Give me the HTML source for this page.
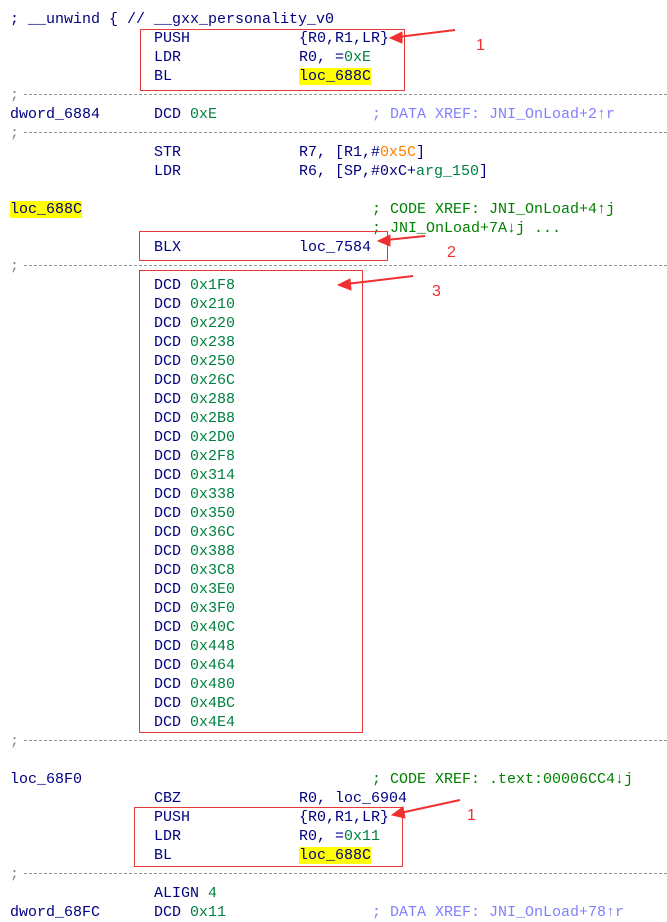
<!DOCTYPE html>
<html><head><meta charset="utf-8"><style>
body{margin:0;width:667px;height:910px;background:#fff;position:relative;overflow:hidden;font-family:"Liberation Mono",monospace;font-size:15px;color:#000080}
.w{position:absolute;left:0;top:2px;width:667px;height:910px}
.r{position:absolute;white-space:pre;line-height:19px;height:19px}
.g{color:#008040}.o{color:#ff8000}.d{color:#8080ff}.c{color:#008000}
.h{background:#ffff00}
.sep{position:absolute;left:24px;right:0;height:0;border-top:1px dashed #909090}
.box{position:absolute;border:1px solid #e83a3a}
.n{position:absolute;color:#f03030;font-family:"Liberation Sans",sans-serif;font-size:16px}
</style></head><body>
<div class="w">
<div class="r" style="left:10px;top:8px">; __unwind { // __gxx_personality_v0</div>
<div class="r" style="left:154px;top:27px">PUSH</div><div class="r" style="left:299px;top:27px">{R0,R1,LR}</div>
<div class="r" style="left:154px;top:46px">LDR</div><div class="r" style="left:299px;top:46px">R0, =<span class="g">0xE</span></div>
<div class="r" style="left:154px;top:65px">BL</div><div class="r" style="left:299px;top:65px"><span class="h">loc_688C</span></div>
<div class="r" style="left:10px;top:84px;color:#888">;</div>
<div class="r" style="left:10px;top:103px">dword_6884</div><div class="r" style="left:154px;top:103px">DCD <span class="g">0xE</span></div><div class="r d" style="left:372px;top:103px">; DATA XREF: JNI_OnLoad+2↑r</div>
<div class="r" style="left:10px;top:122px;color:#888">;</div>
<div class="r" style="left:154px;top:141px">STR</div><div class="r" style="left:299px;top:141px">R7, [R1,#<span class="o">0x5C</span>]</div>
<div class="r" style="left:154px;top:160px">LDR</div><div class="r" style="left:299px;top:160px">R6, [SP,#0xC+<span class="g">arg_150</span>]</div>
<div class="r" style="left:10px;top:198px"><span class="h">loc_688C</span></div><div class="r c" style="left:372px;top:198px">; CODE XREF: JNI_OnLoad+4↑j</div>
<div class="r c" style="left:372px;top:217px">; JNI_OnLoad+7A↓j ...</div>
<div class="r" style="left:154px;top:236px">BLX</div><div class="r" style="left:299px;top:236px">loc_7584</div>
<div class="r" style="left:10px;top:255px;color:#888">;</div>
<div class="r" style="left:154px;top:274px;height:auto">DCD <span class="g">0x1F8</span>
DCD <span class="g">0x210</span>
DCD <span class="g">0x220</span>
DCD <span class="g">0x238</span>
DCD <span class="g">0x250</span>
DCD <span class="g">0x26C</span>
DCD <span class="g">0x288</span>
DCD <span class="g">0x2B8</span>
DCD <span class="g">0x2D0</span>
DCD <span class="g">0x2F8</span>
DCD <span class="g">0x314</span>
DCD <span class="g">0x338</span>
DCD <span class="g">0x350</span>
DCD <span class="g">0x36C</span>
DCD <span class="g">0x388</span>
DCD <span class="g">0x3C8</span>
DCD <span class="g">0x3E0</span>
DCD <span class="g">0x3F0</span>
DCD <span class="g">0x40C</span>
DCD <span class="g">0x448</span>
DCD <span class="g">0x464</span>
DCD <span class="g">0x480</span>
DCD <span class="g">0x4BC</span>
DCD <span class="g">0x4E4</span></div>
<div class="r" style="left:10px;top:730px;color:#888">;</div>
<div class="r" style="left:10px;top:768px">loc_68F0</div><div class="r c" style="left:372px;top:768px">; CODE XREF: .text:00006CC4↓j</div>
<div class="r" style="left:154px;top:787px">CBZ</div><div class="r" style="left:299px;top:787px">R0, loc_6904</div>
<div class="r" style="left:154px;top:806px">PUSH</div><div class="r" style="left:299px;top:806px">{R0,R1,LR}</div>
<div class="r" style="left:154px;top:825px">LDR</div><div class="r" style="left:299px;top:825px">R0, =<span class="g">0x11</span></div>
<div class="r" style="left:154px;top:844px">BL</div><div class="r" style="left:299px;top:844px"><span class="h">loc_688C</span></div>
<div class="r" style="left:10px;top:863px;color:#888">;</div>
<div class="r" style="left:154px;top:882px">ALIGN <span class="g">4</span></div>
<div class="r" style="left:10px;top:901px">dword_68FC</div><div class="r" style="left:154px;top:901px">DCD <span class="g">0x11</span></div><div class="r d" style="left:372px;top:901px">; DATA XREF: JNI_OnLoad+78↑r</div>
</div>
<div class="sep" style="top:94px"></div>
<div class="sep" style="top:132px"></div>
<div class="sep" style="top:265px"></div>
<div class="sep" style="top:740px"></div>
<div class="sep" style="top:873px"></div>

<div class="box" style="left:140px;top:29px;width:263px;height:60px"></div>
<div class="box" style="left:139px;top:231px;width:247px;height:28px"></div>
<div class="box" style="left:139px;top:270px;width:222px;height:461px"></div>
<div class="box" style="left:134px;top:807px;width:267px;height:58px"></div>

<svg style="position:absolute;left:0;top:0" width="667" height="910">
<g fill="#f03030" stroke="#f03030">
<line x1="455" y1="30" x2="398" y2="37" stroke-width="2"/><polygon points="390,38 402,32 402,43"/>
<line x1="425" y1="236" x2="386" y2="240" stroke-width="2"/><polygon points="378,241 390,235 390,246"/>
<line x1="413" y1="276" x2="346" y2="284" stroke-width="2"/><polygon points="338,285 350,279 351,290"/>
<line x1="460" y1="800" x2="400" y2="813" stroke-width="2"/><polygon points="392,815 403,807 405,818"/>
</g></svg>
<div class="n" style="left:476px;top:37px">1</div>
<div class="n" style="left:447px;top:244px">2</div>
<div class="n" style="left:432px;top:283px">3</div>
<div class="n" style="left:467px;top:807px">1</div>
</body></html>
